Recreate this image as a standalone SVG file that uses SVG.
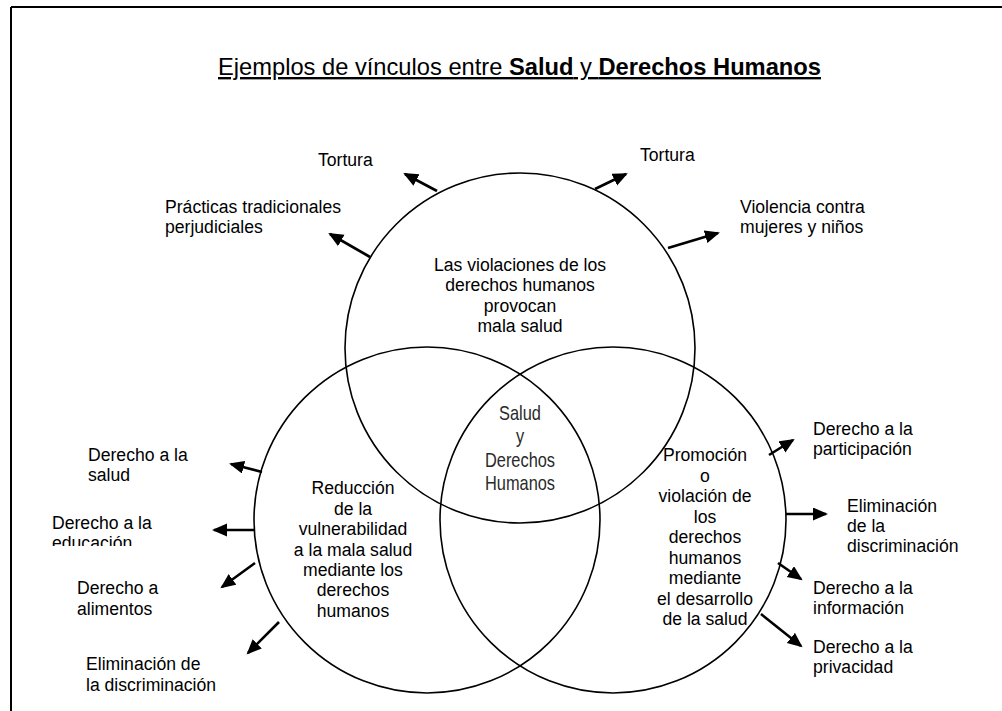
<svg xmlns="http://www.w3.org/2000/svg" width="1002" height="711" viewBox="0 0 1002 711">
<style>
text{font-family:"Liberation Sans",Arial,sans-serif;fill:#000}
.t{font-size:17.6px}
.c{font-size:17.6px;text-anchor:middle}
.ctr{font-size:20px;text-anchor:middle;fill:#2a2a2a}
.circle{fill:none;stroke:#000;stroke-width:1.6}
.arr{stroke:#000;stroke-width:2.6;fill:none;marker-end:url(#ah)}
.title{font-size:23.7px;text-decoration:underline}
</style>
<defs>
<marker id="ah" markerUnits="userSpaceOnUse" markerWidth="16" markerHeight="14" refX="13" refY="6.5" orient="auto">
<path d="M0,0 L15,6.5 L0,13 z" fill="#000"/>
</marker>
<clipPath id="clipEdu"><rect x="0" y="0" width="400" height="546"/></clipPath>
</defs>
<rect x="0" y="0" width="1002" height="711" fill="#fff"/>
<g id="frame" stroke="#000" stroke-width="2" fill="none">
<line x1="11" y1="7" x2="1002" y2="7"/>
<line x1="11" y1="7" x2="11" y2="711"/>
</g>
<g id="title">
<text class="title" x="218" y="75">Ejemplos de vínculos entre <tspan font-weight="bold">Salud</tspan> y <tspan font-weight="bold">Derechos Humanos</tspan></text>
</g>
<g id="circle-top">
<circle class="circle" cx="520" cy="348" r="175"/>
<text class="c" x="520" y="271">Las violaciones de los</text>
<text class="c" x="520" y="291">derechos humanos</text>
<text class="c" x="520" y="312">provocan</text>
<text class="c" x="520" y="332">mala salud</text>
</g>
<g id="circle-left">
<circle class="circle" cx="427" cy="520" r="173"/>
<text class="c" x="353" y="494">Reducción</text>
<text class="c" x="353" y="515">de la</text>
<text class="c" x="353" y="535">vulnerabilidad</text>
<text class="c" x="353" y="556">a la mala salud</text>
<text class="c" x="353" y="576">mediante los</text>
<text class="c" x="353" y="596">derechos</text>
<text class="c" x="353" y="617">humanos</text>
</g>
<g id="circle-right">
<circle class="circle" cx="613" cy="520" r="173"/>
<text class="c" x="705" y="461">Promoción</text>
<text class="c" x="705" y="482">o</text>
<text class="c" x="705" y="502">violación de</text>
<text class="c" x="705" y="523">los</text>
<text class="c" x="705" y="543">derechos</text>
<text class="c" x="705" y="564">humanos</text>
<text class="c" x="705" y="584">mediante</text>
<text class="c" x="705" y="605">el desarrollo</text>
<text class="c" x="705" y="625">de la salud</text>
</g>
<g id="center" transform="translate(520,0) scale(0.82,1)">
<text class="ctr" x="0" y="420">Salud</text>
<text class="ctr" x="0" y="443">y</text>
<text class="ctr" x="0" y="467">Derechos</text>
<text class="ctr" x="0" y="490">Humanos</text>
</g>
<g id="labels">
<g id="lbl-tortura-l"><text class="t" x="318" y="166">Tortura</text></g>
<g id="lbl-practicas"><text class="t" x="165" y="213">Prácticas tradicionales</text><text class="t" x="165" y="233">perjudiciales</text></g>
<g id="lbl-tortura-r"><text class="t" x="640" y="161">Tortura</text></g>
<g id="lbl-violencia"><text class="t" x="740" y="213">Violencia contra</text><text class="t" x="740" y="233">mujeres y niños</text></g>
<g id="lbl-salud"><text class="t" x="88" y="461">Derecho a la</text><text class="t" x="88" y="481">salud</text></g>
<g id="lbl-educacion" clip-path="url(#clipEdu)"><text class="t" x="52" y="529">Derecho a la</text><text class="t" x="52" y="549">educación</text></g>
<g id="lbl-alimentos"><text class="t" x="77" y="594">Derecho a</text><text class="t" x="77" y="615">alimentos</text></g>
<g id="lbl-elim-l"><text class="t" x="86" y="670">Eliminación de</text><text class="t" x="86" y="691">la discriminación</text></g>
<g id="lbl-participacion"><text class="t" x="813" y="435">Derecho a la</text><text class="t" x="813" y="455">participación</text></g>
<g id="lbl-elim-r"><text class="t" x="847" y="512">Eliminación</text><text class="t" x="847" y="532">de la</text><text class="t" x="847" y="552">discriminación</text></g>
<g id="lbl-informacion"><text class="t" x="813" y="594">Derecho a la</text><text class="t" x="813" y="614">información</text></g>
<g id="lbl-privacidad"><text class="t" x="813" y="653">Derecho a la</text><text class="t" x="813" y="673">privacidad</text></g>
</g>
<g id="connectors">
<line class="arr" x1="437" y1="191" x2="405" y2="174"/>
<line class="arr" x1="370" y1="257" x2="330" y2="234"/>
<line class="arr" x1="595" y1="189" x2="626" y2="174"/>
<line class="arr" x1="668" y1="248" x2="718" y2="233"/>
<line class="arr" x1="262" y1="472" x2="231" y2="464"/>
<line class="arr" x1="255" y1="530" x2="214" y2="530"/>
<line class="arr" x1="255" y1="563" x2="222" y2="587"/>
<line class="arr" x1="279" y1="622" x2="248" y2="653"/>
<line class="arr" x1="769" y1="455" x2="793" y2="440"/>
<line class="arr" x1="786" y1="514" x2="826" y2="514"/>
<line class="arr" x1="778" y1="563" x2="801" y2="579"/>
<line class="arr" x1="761" y1="614" x2="801" y2="646"/>
</g>
</svg>
